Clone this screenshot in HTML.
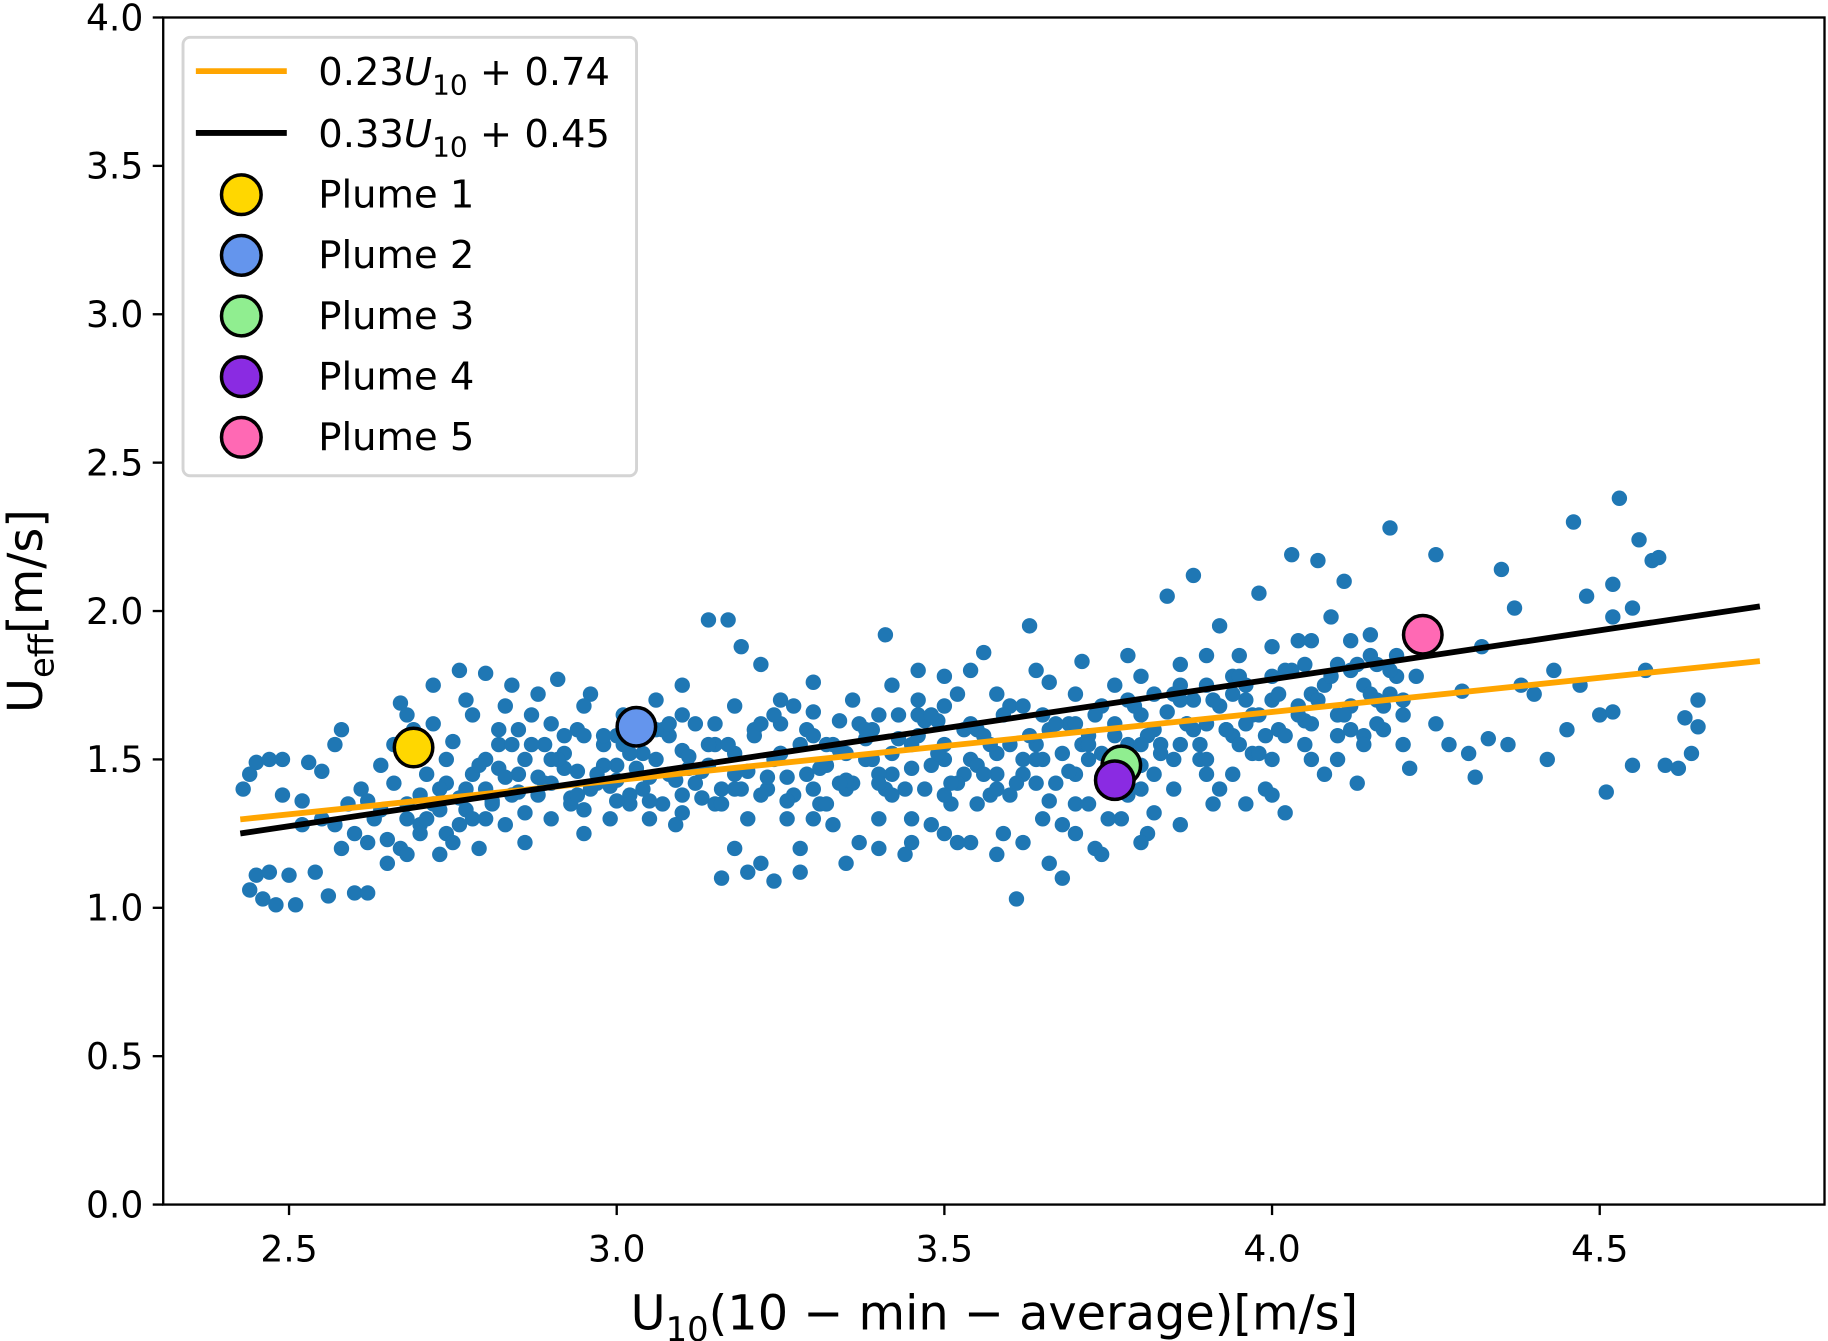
<!DOCTYPE html>
<html><head><meta charset="utf-8"><style>
html,body{margin:0;padding:0;background:#fff;}
svg{display:block;font-family:"DejaVu Sans","Liberation Sans",sans-serif;}
</style></head><body>
<svg id="chart" width="1828" height="1341" viewBox="0 0 1568 1150" preserveAspectRatio="none" xmlns="http://www.w3.org/2000/svg">
<g id="plot"></g>
</svg>
<script>
const scatterX = [2.43,2.44,2.44,2.45,2.45,2.46,2.47,2.47,2.48,2.49,2.49,2.50,2.51,2.52,2.53,2.54,2.55,2.56,2.57,2.57,2.58,2.59,2.60,2.61,2.62,2.62,2.63,2.64,2.65,2.66,2.67,2.67,2.68,2.68,2.69,2.70,2.71,2.72,2.73,2.74,2.75,2.76,2.77,2.78,2.79,2.80,2.80,2.81,2.82,2.83,2.84,2.85,2.86,2.87,2.88,2.89,2.90,2.91,2.92,2.93,2.94,2.95,2.96,2.97,2.98,2.99,3.00,3.01,3.02,3.04,3.05,3.06,3.07,3.08,3.09,3.10,3.11,3.12,3.13,3.14,3.15,3.16,3.17,3.18,3.19,3.20,3.21,3.22,3.23,3.24,3.25,3.26,3.27,3.28,3.29,3.30,3.31,3.32,3.33,3.34,3.35,3.36,3.37,3.38,3.39,3.40,3.41,3.42,3.43,3.44,3.45,3.46,3.47,3.48,3.49,3.50,3.51,3.52,3.53,3.54,3.55,3.56,3.57,3.58,3.59,3.60,3.61,3.62,3.63,3.64,3.65,3.66,3.67,3.68,3.69,3.70,3.71,3.72,3.73,3.74,3.75,3.76,3.77,3.78,3.79,3.80,3.81,3.82,3.83,3.84,3.85,3.86,3.87,3.88,3.89,3.90,3.91,3.92,3.93,3.94,3.95,3.96,3.97,3.98,3.99,4.00,4.01,4.02,4.03,4.04,4.05,4.06,4.07,4.08,4.09,4.10,4.11,4.12,4.13,4.14,4.15,4.16,4.17,4.18,4.19,4.20,4.21,4.22,4.25,4.25,4.27,4.29,4.30,4.31,4.32,4.33,4.35,4.36,4.37,4.38,4.40,4.42,4.43,4.45,4.46,4.47,4.48,4.50,4.51,4.52,4.53,4.55,4.56,4.57,4.58,4.60,4.62,4.63,4.64,4.65,4.65,4.59,4.55,4.52,4.52,
2.62,2.64,2.66,2.68,2.70,2.72,2.74,2.76,2.78,2.80,2.82,2.84,2.86,2.88,2.90,2.92,2.94,2.96,2.98,3.00,3.02,3.04,3.06,3.08,3.10,3.12,3.14,3.16,3.18,3.20,3.22,3.24,3.26,3.28,3.30,3.32,3.34,3.36,3.38,3.40,3.42,3.44,3.46,3.48,3.50,3.52,3.54,3.56,3.58,3.60,3.62,3.64,3.66,3.68,3.70,3.72,3.74,3.76,3.78,3.80,3.82,3.84,3.86,3.88,3.90,3.92,3.94,3.96,3.98,4.00,4.02,4.04,4.06,4.08,4.10,4.12,4.14,4.16,4.18,4.20,
2.70,2.75,2.80,2.85,2.90,2.95,3.00,3.05,3.10,3.15,3.20,3.25,3.30,3.35,3.40,3.45,3.50,3.55,3.60,3.65,3.70,3.75,3.80,3.85,3.90,3.95,4.00,4.05,4.10,4.15,3.62,3.68,3.72,3.78,3.82,3.86,3.92,3.96,4.00,3.58,3.64,3.70,3.76,3.80,3.86,3.90,3.94,4.00,4.06,4.12,4.16,3.42,3.46,3.50,3.54,3.25,3.30,3.18,3.10,2.95,2.88,2.83,2.77,2.72,3.35,3.40,3.28,3.22,3.18,3.52,3.58,3.66,3.74,3.80,3.50,3.45,2.60,2.58,2.55,2.52,2.65,2.68,2.73,
2.71,2.73,2.77,2.79,2.81,2.83,2.85,2.87,2.89,2.91,2.93,2.95,2.97,2.99,3.01,3.03,3.05,3.07,3.09,3.11,3.13,3.15,3.17,3.19,3.21,3.23,3.25,3.27,3.29,3.31,3.33,3.35,3.37,3.39,3.41,3.43,3.45,3.47,3.49,3.51,3.53,3.55,3.57,3.59,3.61,3.63,3.65,3.67,3.69,3.71,3.73,3.75,3.77,3.79,3.81,3.83,3.85,3.87,3.89,3.91,3.93,3.95,3.97,3.99,4.01,4.03,4.05,4.07,4.09,4.11,4.13,4.15,4.17,4.19,
2.74,2.78,2.82,2.86,2.90,2.94,2.98,3.02,3.06,3.10,3.14,3.18,3.22,3.26,3.30,3.34,3.38,3.42,3.46,3.50,3.54,3.58,3.62,3.66,3.70,3.74,3.78,3.82,3.86,3.90,3.94,3.98,4.02,4.06,4.10,4.14,4.18,
2.76,2.84,2.92,3.00,3.08,3.16,3.24,3.32,3.40,3.48,3.56,3.64,3.72,3.80,3.88,3.96,4.04,4.12,4.20];
const scatterY = [1.40,1.45,1.06,1.11,1.49,1.03,1.12,1.50,1.01,1.38,1.50,1.11,1.01,1.36,1.49,1.12,1.46,1.04,1.28,1.55,1.60,1.35,1.05,1.40,1.05,1.22,1.30,1.48,1.15,1.55,1.20,1.69,1.65,1.35,1.60,1.28,1.45,1.75,1.33,1.25,1.56,1.80,1.40,1.65,1.20,1.50,1.79,1.35,1.60,1.28,1.75,1.45,1.22,1.65,1.38,1.55,1.30,1.77,1.47,1.35,1.60,1.25,1.72,1.42,1.55,1.30,1.48,1.65,1.38,1.52,1.44,1.70,1.35,1.58,1.28,1.75,1.47,1.62,1.37,1.97,1.55,1.10,1.97,1.45,1.88,1.12,1.60,1.82,1.40,1.09,1.52,1.30,1.68,1.20,1.45,1.76,1.35,1.55,1.28,1.63,1.40,1.70,1.22,1.50,1.60,1.30,1.92,1.45,1.65,1.18,1.55,1.80,1.40,1.28,1.63,1.50,1.35,1.72,1.45,1.22,1.60,1.86,1.38,1.52,1.25,1.68,1.03,1.45,1.95,1.55,1.30,1.76,1.42,1.10,1.62,1.35,1.83,1.50,1.20,1.68,1.40,1.58,1.30,1.85,1.47,1.65,1.25,1.72,1.55,2.05,1.40,1.82,1.62,2.12,1.50,1.75,1.35,1.95,1.60,1.45,1.85,1.70,1.52,2.06,1.40,1.78,1.60,1.32,2.19,1.90,1.55,1.72,2.17,1.45,1.98,1.65,2.10,1.80,1.42,1.58,1.92,1.70,1.60,2.28,1.85,1.65,1.47,1.78,2.19,1.62,1.55,1.73,1.52,1.44,1.88,1.57,2.14,1.55,2.01,1.75,1.72,1.50,1.80,1.60,2.30,1.75,2.05,1.65,1.39,2.09,2.38,2.01,2.24,1.80,2.17,1.48,1.47,1.64,1.52,1.70,1.61,2.18,1.48,1.66,1.98,
1.36,1.33,1.42,1.30,1.38,1.35,1.42,1.37,1.45,1.40,1.47,1.38,1.50,1.44,1.42,1.52,1.46,1.40,1.48,1.43,1.52,1.40,1.50,1.45,1.53,1.42,1.48,1.40,1.52,1.46,1.38,1.50,1.44,1.55,1.40,1.48,1.53,1.42,1.57,1.45,1.52,1.40,1.58,1.48,1.55,1.42,1.50,1.58,1.45,1.55,1.50,1.42,1.60,1.52,1.45,1.58,1.52,1.62,1.55,1.48,1.60,1.66,1.55,1.70,1.62,1.68,1.58,1.75,1.65,1.70,1.58,1.68,1.62,1.75,1.58,1.68,1.75,1.62,1.72,1.55,
1.25,1.22,1.30,1.60,1.62,1.33,1.58,1.30,1.38,1.62,1.30,1.62,1.30,1.52,1.65,1.30,1.68,1.35,1.38,1.65,1.25,1.30,1.40,1.50,1.45,1.55,1.50,1.82,1.50,1.85,1.22,1.28,1.35,1.38,1.32,1.28,1.40,1.35,1.38,1.72,1.80,1.72,1.75,1.78,1.70,1.85,1.78,1.88,1.90,1.90,1.82,1.75,1.70,1.78,1.80,1.70,1.66,1.68,1.65,1.68,1.72,1.68,1.70,1.62,1.15,1.20,1.12,1.15,1.20,1.22,1.18,1.15,1.18,1.22,1.25,1.22,1.25,1.20,1.30,1.28,1.23,1.18,1.18,
1.30,1.40,1.33,1.48,1.36,1.44,1.39,1.55,1.42,1.50,1.37,1.58,1.45,1.41,1.55,1.47,1.36,1.60,1.43,1.51,1.46,1.35,1.55,1.40,1.58,1.44,1.52,1.38,1.60,1.47,1.55,1.43,1.62,1.50,1.40,1.57,1.47,1.63,1.52,1.42,1.60,1.48,1.55,1.65,1.42,1.58,1.50,1.62,1.46,1.55,1.65,1.50,1.40,1.68,1.58,1.52,1.72,1.62,1.55,1.70,1.60,1.78,1.65,1.58,1.72,1.80,1.63,1.70,1.78,1.65,1.82,1.72,1.68,1.78,
1.50,1.30,1.55,1.32,1.50,1.38,1.58,1.35,1.60,1.32,1.55,1.40,1.62,1.36,1.58,1.42,1.60,1.38,1.65,1.38,1.62,1.40,1.68,1.36,1.62,1.44,1.70,1.45,1.75,1.50,1.72,1.52,1.80,1.50,1.82,1.55,1.80,
1.28,1.55,1.58,1.36,1.62,1.35,1.65,1.35,1.42,1.65,1.45,1.50,1.55,1.55,1.60,1.62,1.65,1.60,1.70];
const fitSlopes = [0.23, 0.33];
const fitIntercepts = [0.74, 0.45];
const fitColors = ["#FFA500", "#000000"];
const fitRange = [2.43, 4.74];
const plumeNames = ["Plume 1","Plume 2","Plume 3","Plume 4","Plume 5"];
const plumeX = [2.69, 3.03, 3.77, 3.76, 4.23];
const plumeY = [1.54, 1.61, 1.48, 1.43, 1.92];
const plumeColors = ["#FFD700","#6495ED","#90EE90","#8A2BE2","#FF69B4"];
const xTicks = [2.5, 3.0, 3.5, 4.0, 4.5];
const yTicks = [0.0, 0.5, 1.0, 1.5, 2.0, 2.5, 3.0, 3.5, 4.0];

const L=140, R=1565, T=15, B=1033;
const XMIN=2.308, XMAX=4.843, YMIN=0, YMAX=4;
const sx = v => L + (v - XMIN) / (XMAX - XMIN) * (R - L);
const sy = v => B - (v - YMIN) / (YMAX - YMIN) * (B - T);
const NS = "http://www.w3.org/2000/svg";
const g = document.getElementById('plot');
function mk(tag, attrs, parent) {
  const e = document.createElementNS(NS, tag);
  for (const k in attrs) e.setAttribute(k, attrs[k]);
  (parent || g).appendChild(e);
  return e;
}
const sg = mk('g', {});


for (let i = 0; i < scatterX.length; i++) {
  const c = mk('circle', {cx: sx(scatterX[i]), cy: sy(scatterY[i]), r: 6.6, fill: '#1f77b4'}, sg);
  
  
}
for (let i = 0; i < fitSlopes.length; i++) {
  const ln = mk('line', {x1: sx(fitRange[0]), y1: sy(fitSlopes[i]*fitRange[0]+fitIntercepts[i]), x2: sx(fitRange[1]), y2: sy(fitSlopes[i]*fitRange[1]+fitIntercepts[i]), stroke: fitColors[i], 'stroke-width': 5, 'stroke-linecap': 'square'});
  
  
}
for (let i = 0; i < plumeX.length; i++) {
  const c = mk('circle', {cx: sx(plumeX[i]), cy: sy(plumeY[i]), r: 16.5, fill: plumeColors[i], stroke: '#000', 'stroke-width': 3});
  
  
}
const fr = mk('rect', {x: L, y: T, width: R-L, height: B-T, fill: 'none', stroke: '#000', 'stroke-width': 2});


for (const t of xTicks) {
  const x = sx(t);
  const tk = mk('line', {x1: x, y1: B, x2: x, y2: B+9, stroke: '#000', 'stroke-width': 2});
  
  
  const tx = mk('text', {x: x, y: B+49, 'font-size': 31, 'text-anchor': 'middle'});
  tx.textContent = t.toFixed(1);
  
  
}
for (const t of yTicks) {
  const y = sy(t);
  const tk = mk('line', {x1: L-9, y1: y, x2: L, y2: y, stroke: '#000', 'stroke-width': 2});
  
  
  const tx = mk('text', {x: L-17, y: y+11, 'font-size': 31, 'text-anchor': 'end'});
  tx.textContent = t.toFixed(1);
  
  
}
</script>
<svg style="position:absolute;left:0;top:0" width="1828" height="1341" viewBox="0 0 1568 1150" preserveAspectRatio="none" xmlns="http://www.w3.org/2000/svg" font-family="DejaVu Sans, Liberation Sans, sans-serif">
<text x="853" y="1140" font-size="41" text-anchor="middle">U<tspan font-size="29" dy="10">10</tspan><tspan dy="-10">(10 − min − average)[m/s]</tspan></text>
<text transform="translate(36,524) rotate(-90)" font-size="41" text-anchor="middle">U<tspan font-size="29" dy="10">eff</tspan><tspan dy="-10">[m/s]</tspan></text>
<g>
<rect x="157" y="32" width="389" height="376" rx="6" fill="#fff" fill-opacity="0.8" stroke="#d4d4d4" stroke-width="2.5"/>
<line x1="168" y1="61" x2="246" y2="61" stroke="#FFA500" stroke-width="5"/>
<text x="273" y="73" font-size="33">0.23<tspan font-style="italic">U</tspan><tspan font-size="24" dy="8">10</tspan><tspan dy="-8"> + 0.74</tspan></text>
<line x1="168" y1="114" x2="246" y2="114" stroke="#000" stroke-width="5"/>
<text x="273" y="126" font-size="33">0.33<tspan font-style="italic">U</tspan><tspan font-size="24" dy="8">10</tspan><tspan dy="-8"> + 0.45</tspan></text>
<circle cx="207" cy="167" r="17" fill="#FFD700" stroke="#000" stroke-width="3"/>
<text x="273" y="178" font-size="33">Plume 1</text>
<circle cx="207" cy="219" r="17" fill="#6495ED" stroke="#000" stroke-width="3"/>
<text x="273" y="230" font-size="33">Plume 2</text>
<circle cx="207" cy="271" r="17" fill="#90EE90" stroke="#000" stroke-width="3"/>
<text x="273" y="282" font-size="33">Plume 3</text>
<circle cx="207" cy="323" r="17" fill="#8A2BE2" stroke="#000" stroke-width="3"/>
<text x="273" y="334" font-size="33">Plume 4</text>
<circle cx="207" cy="375" r="17" fill="#FF69B4" stroke="#000" stroke-width="3"/>
<text x="273" y="386" font-size="33">Plume 5</text>
</g>
</svg>
</body></html>
